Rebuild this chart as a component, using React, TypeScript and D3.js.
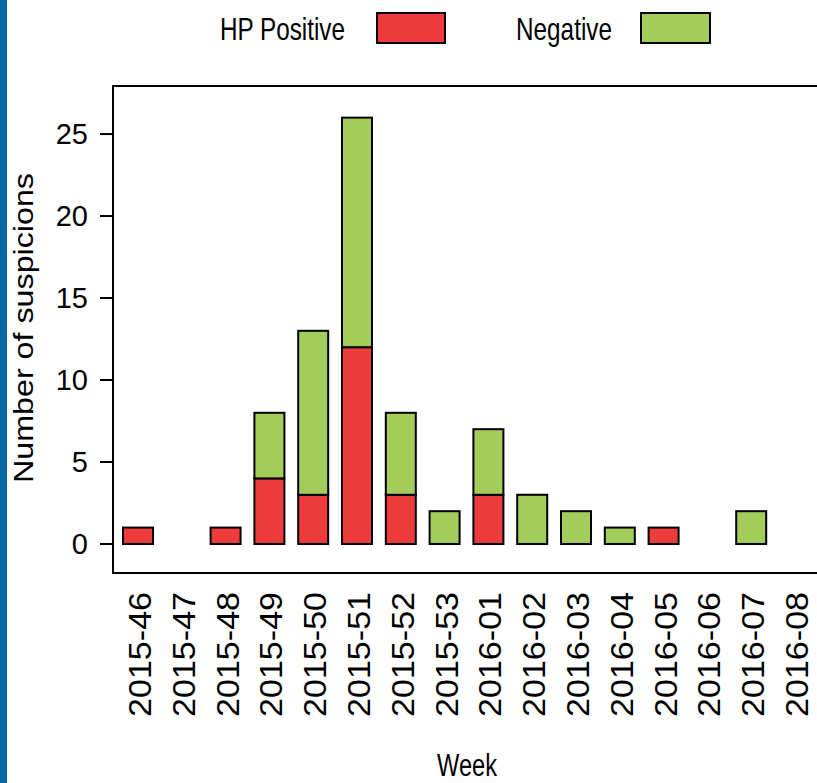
import React from "react";
import * as d3 from "d3";

const weeks = [
  "2015-46", "2015-47", "2015-48", "2015-49", "2015-50", "2015-51", "2015-52", "2015-53",
  "2016-01", "2016-02", "2016-03", "2016-04", "2016-05", "2016-06", "2016-07", "2016-08",
];
const hpPositive = [1, 0, 1, 4, 3, 12, 3, 0, 3, 0, 0, 0, 1, 0, 0, 0];
const negative = [0, 0, 0, 4, 10, 14, 5, 2, 4, 3, 2, 1, 0, 0, 2, 0];
const seriesNames = ["HP Positive", "Negative"];
const seriesColors = ["#EE3B3B", "#A2CD5A"];
const yTicks = [0, 5, 10, 15, 20, 25];

const W = 817;
const H = 783;
const plotLeft = 113;
const plotTop = 86;
const plotBottom = 573;
const FONT = "'Liberation Sans', Arial, sans-serif";

export default function App() {
  const rows = weeks.map((w, i) => ({ week: w, pos: hpPositive[i], neg: negative[i] }));
  const stack = d3.stack<any>().keys(["pos", "neg"]);
  const layers = stack(rows);

  const x = d3
    .scaleBand<string>()
    .domain(weeks)
    .range([116.1, 116.1 + 16 * 43.8])
    .paddingInner(0.315)
    .paddingOuter(0.1575);
  const y = d3.scaleLinear().domain([-1.77, 27.93]).range([plotBottom, plotTop]);

  return (
    <svg
      width={W}
      height={H}
      viewBox={`0 0 ${W} ${H}`}
      style={{ position: "absolute", left: 0, top: 0, background: "#fff" }}
      fontFamily={FONT}
    >
      <rect x={0} y={0} width={W} height={H} fill="#fff" />
      <rect x={0} y={0} width={7} height={H} fill="#0a67a5" />

      {/* legend */}
      <text x={220} y={40} fontSize={32} textLength={125} lengthAdjust="spacingAndGlyphs" fill="#000">
        {seriesNames[0]}
      </text>
      <rect x={377} y={13} width={68} height={30} fill={seriesColors[0]} stroke="#000" strokeWidth={2} />
      <text x={516} y={40} fontSize={32} textLength={96} lengthAdjust="spacingAndGlyphs" fill="#000">
        {seriesNames[1]}
      </text>
      <rect x={641} y={13} width={69} height={30} fill={seriesColors[1]} stroke="#000" strokeWidth={2} />

      {/* bars */}
      {layers.map((layer, li) =>
        layer.map((d, i) => {
          const h = d[1] - d[0];
          if (h <= 0) return null;
          return (
            <rect
              key={`${li}-${i}`}
              x={x(weeks[i])}
              y={y(d[1])}
              width={x.bandwidth()}
              height={y(d[0]) - y(d[1])}
              fill={seriesColors[li]}
              stroke="#000"
              strokeWidth={2}
            />
          );
        })
      )}

      {/* plot frame */}
      <rect
        x={plotLeft}
        y={plotTop}
        width={740}
        height={plotBottom - plotTop}
        fill="none"
        stroke="#000"
        strokeWidth={2}
      />

      {/* y axis ticks */}
      {yTicks.map((t) => (
        <g key={t}>
          <line x1={100} x2={plotLeft} y1={y(t)} y2={y(t)} stroke="#000" strokeWidth={2} />
          <text x={88} y={y(t)} dy="0.35em" textAnchor="end" fontSize={29} fill="#000">
            {t}
          </text>
        </g>
      ))}

      {/* x labels */}
      {weeks.map((w) => {
        const cx = (x(w) as number) + x.bandwidth() / 2;
        return (
          <text
            key={w}
            transform={`translate(${cx + 13},592) rotate(-90)`}
            textAnchor="end"
            fontSize={32}
            textLength={125}
            lengthAdjust="spacingAndGlyphs"
            fill="#000"
          >
            {w}
          </text>
        );
      })}

      {/* axis titles */}
      <text
        transform="translate(33,328) rotate(-90)"
        textAnchor="middle"
        fontSize={28}
        textLength={310}
        lengthAdjust="spacingAndGlyphs"
        fill="#000"
      >
        Number of suspicions
      </text>
      <text x={467} y={776} textAnchor="middle" fontSize={31} textLength={60} lengthAdjust="spacingAndGlyphs" fill="#000">
        Week
      </text>
    </svg>
  );
}
